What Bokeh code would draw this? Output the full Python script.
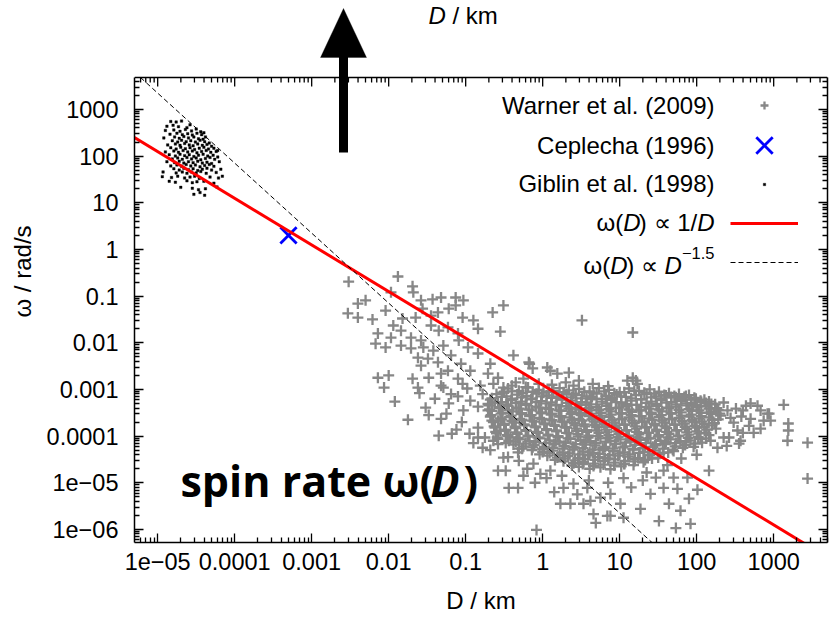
import math
from bokeh.plotting import figure
from bokeh.models import (Range1d, LogAxis, FixedTicker, Label, Legend, LegendItem,
                          BoxAnnotation, PolyAnnotation, Span, ColumnDataSource)
from bokeh.core.properties import value
from bokeh.embed import file_html
from bokeh.resources import INLINE

# ---------------- data (log10 units for the scatter sets) ----------------
warner_log10_D = [
    -2.52, -1.88, -1.69, -1.68, -2.40, -2.30, -2.53, -2.40, -2.21, -2.04,
    -1.97, -1.58, -1.43, -1.32, -1.13, -1.03, -1.13, -1.22, -1.36, -1.45,
    -1.56, -1.65, -1.82, -1.94, -1.84, -1.71, -1.58, -1.45, -1.35, -1.23,
    -1.10, -1.04, -0.90, -0.84, -0.65, -2.14, -2.17, -1.97, -2.04, -1.84,
    -1.71, -1.55, -1.42, -1.29, -1.19, -1.09, -0.97, -0.84, -1.62, -1.49,
    -1.58, -1.36, -1.23, -1.06, -0.94, -2.14, -2.00, -1.69, -1.48, -1.32,
    -1.10, -0.71, -0.64, -1.62, -1.32, -1.04, -0.81, -2.06, -0.51, -0.55,
    0.51, 1.17, -0.38, -0.17, 0.06, 0.34, 1.17, 1.21, -1.92, -1.75,
    -1.35, -1.52, -1.32, -1.22, -0.84, -0.78, -0.58, -0.48, -0.25, -0.44,
    -0.32, -0.03, 0.23, 0.36, 0.53, 0.66, 0.69, 0.84, 1.05, 1.27,
    1.51, 1.73, 1.92, -0.08, 1.64, 1.79, 1.90, 1.75, 1.57, 1.40,
    1.47, 1.70, 1.88, 1.57, 2.16, 2.01, -0.51, -0.12, -0.31, -0.64,
    -0.55, -0.31, 0.10, 0.27, 0.40, 0.58, 0.62, 0.75, 0.88, 1.01,
    -0.18, -0.13, 0.10, 0.19, 0.30, 0.47, 0.65, 1.10, 1.23, -0.25,
    -0.35, -0.58, -0.68, -0.51, 0.88, 2.79, 2.92, 2.96, 3.13, 3.19,
    3.19, 3.18, 3.44, 3.44, 2.60, 2.70, 2.83, 2.53, 2.42, 2.35,
    2.44, 2.57, 2.27, 2.35, 2.87, 2.74, 2.55, 2.39, 2.94, 2.64,
    2.51, 2.83, 2.68, 2.48, 2.31, 2.25, 2.60, 2.70, 2.40, 2.58,
    -1.29, -1.10, -0.94, -0.84, -1.03, -0.71, -0.58, -0.84, -0.49, -0.75,
    -0.42, -0.58, -0.32, -1.19, -1.40, -1.25, -1.05, -0.95, -1.12, -0.90,
    -0.62, -0.78, -0.98, -0.50, -0.40, -0.22, -0.05, 0.12, 0.40, 0.85,
    -1.60, -1.48, -1.18, -0.68, -0.45, -0.20, 0.05, 0.15, 0.45, 1.15,
    1.30, 1.05, 0.85, 0.25, -0.10, 1.62, 1.80, 2.00, 1.35, 0.60,
    -0.45, -0.31, -0.19, -0.05, 0.08, 0.22, 0.34, 0.47, 0.61, 0.73, 0.86, 1.00, 1.12, 1.25, 1.39, 1.51, 1.64, 1.77, 1.90,
    -0.53, -0.40, -0.26, -0.13, 0.01, 0.14, 0.27, 0.40, 0.54, 0.66, 0.80, 0.93, 1.06, 1.19, 1.32, 1.45, 1.58, 1.71, 1.84, 1.97,
    -0.60, -0.47, -0.33, -0.21, -0.08, 0.05, 0.18, 0.31, 0.43, 0.57, 0.70, 0.82, 0.96, 1.08, 1.21, 1.35, 1.47, 1.60, 1.73, 1.86, 1.99, 2.10,
    -0.66, -0.53, -0.40, -0.27, -0.14, -0.01, 0.12, 0.25, 0.38, 0.51, 0.64, 0.77, 0.90, 1.02, 1.15, 1.28, 1.41, 1.54, 1.67, 1.80, 1.93, 2.05, 2.16,
    -0.68, -0.54, -0.41, -0.28, -0.15, -0.02, 0.11, 0.25, 0.37, 0.50, 0.63, 0.77, 0.89, 1.02, 1.15, 1.28, 1.41, 1.54, 1.67, 1.80, 1.93, 2.06, 2.19,
    -0.71, -0.58, -0.47, -0.35, -0.22, -0.08, 0.05, 0.18, 0.31, 0.44, 0.57, 0.70, 0.83, 0.96, 1.09, 1.22, 1.35, 1.48, 1.61, 1.74, 1.87, 2.00, 2.12, 2.24,
    -0.70, -0.57, -0.45, -0.34, -0.21, -0.09, 0.04, 0.17, 0.31, 0.43, 0.56, 0.70, 0.83, 0.95, 1.09, 1.22, 1.34, 1.48, 1.61, 1.73, 1.87, 2.00, 2.13, 2.26,
    -0.69, -0.56, -0.44, -0.31, -0.18, -0.05, 0.08, 0.21, 0.34, 0.47, 0.60, 0.73, 0.86, 0.99, 1.12, 1.25, 1.38, 1.51, 1.64, 1.77, 1.90, 2.03, 2.16, 2.28,
    -0.66, -0.52, -0.39, -0.27, -0.14, -0.01, 0.12, 0.24, 0.38, 0.50, 0.63, 0.76, 0.89, 1.03, 1.16, 1.28, 1.41, 1.55, 1.67, 1.80, 1.94, 2.06, 2.19, 2.30,
    -0.67, -0.54, -0.41, -0.28, -0.15, -0.02, 0.11, 0.24, 0.37, 0.50, 0.63, 0.76, 0.89, 1.02, 1.15, 1.28, 1.41, 1.54, 1.67, 1.80, 1.93, 2.06, 2.19,
    -0.68, -0.55, -0.43, -0.30, -0.17, -0.04, 0.09, 0.21, 0.35, 0.47, 0.60, 0.74, 0.86, 0.99, 1.12, 1.25, 1.38, 1.51, 1.64, 1.77, 1.90, 2.03, 2.16, 2.28,
    -0.66, -0.53, -0.40, -0.27, -0.14, -0.01, 0.12, 0.25, 0.38, 0.51, 0.64, 0.77, 0.90, 1.03, 1.16, 1.29, 1.42, 1.55, 1.68, 1.81, 1.94, 2.07, 2.20,
    -0.64, -0.50, -0.37, -0.24, -0.11, 0.02, 0.15, 0.28, 0.41, 0.54, 0.67, 0.80, 0.93, 1.06, 1.19, 1.32, 1.45, 1.58, 1.71, 1.84, 1.97, 2.10, 2.23,
    -0.63, -0.50, -0.36, -0.23, -0.10, 0.03, 0.16, 0.29, 0.42, 0.55, 0.68, 0.81, 0.94, 1.07, 1.20, 1.33, 1.46, 1.59, 1.72, 1.85, 1.98, 2.10, 2.20,
    -0.62, -0.48, -0.35, -0.22, -0.09, 0.05, 0.18, 0.31, 0.44, 0.57, 0.70, 0.83, 0.96, 1.09, 1.22, 1.35, 1.48, 1.61, 1.74, 1.87, 2.00, 2.13,
    -0.61, -0.48, -0.34, -0.21, -0.08, 0.05, 0.18, 0.31, 0.44, 0.57, 0.70, 0.83, 0.96, 1.09, 1.22, 1.35, 1.48, 1.61, 1.74, 1.87, 2.00, 2.12,
    -0.60, -0.46, -0.33, -0.19, -0.06, 0.07, 0.20, 0.34, 0.46, 0.60, 0.73, 0.86, 0.99, 1.12, 1.25, 1.38, 1.51, 1.64, 1.77, 1.90, 2.03, 2.16,
    -0.59, -0.45, -0.32, -0.19, -0.06, 0.07, 0.20, 0.33, 0.46, 0.59, 0.72, 0.85, 0.98, 1.11, 1.24, 1.37, 1.50, 1.63, 1.76, 1.89, 2.02, 2.12,
    -0.58, -0.44, -0.30, -0.17, -0.04, 0.09, 0.22, 0.36, 0.49, 0.62, 0.75, 0.88, 1.01, 1.14, 1.27, 1.40, 1.53, 1.66, 1.79, 1.92, 2.05, 2.18,
    -0.48, -0.35, -0.22, -0.09, 0.04, 0.17, 0.30, 0.43, 0.56, 0.69, 0.82, 0.95, 1.08, 1.21, 1.34, 1.47, 1.60, 1.73, 1.86, 1.98, 2.07,
    -0.38, -0.25, -0.11, 0.02, 0.15, 0.28, 0.41, 0.55, 0.68, 0.81, 0.94, 1.07, 1.20, 1.33, 1.46, 1.59, 1.72, 1.85, 1.96,
    -0.27, -0.13, 0.00, 0.13, 0.26, 0.39, 0.52, 0.65, 0.78, 0.91, 1.04, 1.17, 1.30, 1.43, 1.56, 1.69, 1.82,
    -0.14, 0.00, 0.13, 0.26, 0.39, 0.52, 0.65, 0.79, 0.92, 1.05, 1.18, 1.31, 1.44, 1.57, 1.70,
    -0.04, 0.09, 0.22, 0.35, 0.48, 0.61, 0.74, 0.87, 1.00, 1.13, 1.26, 1.39, 1.52, 1.63,
    0.06, 0.19, 0.33, 0.46, 0.59, 0.72, 0.85, 0.98, 1.11, 1.24, 1.37, 1.50,
    0.16, 0.29, 0.42, 0.55, 0.68, 0.81, 0.94, 1.07, 1.20, 1.33, 1.42,
    0.27, 0.40, 0.53, 0.66, 0.80, 0.93, 1.06, 1.19, 1.31,
    0.38, 0.52, 0.66, 0.79, 0.93, 1.06, 1.18,
    0.47, 0.61, 0.75, 0.88, 1.02,
]
warner_log10_omega = [
    -0.69, -0.58, -0.79, -0.92, -1.16, -1.09, -1.37, -1.46, -1.50, -1.31,
    -0.92, -1.09, -1.07, -1.03, -1.03, -1.09, -1.20, -1.27, -1.35, -1.42,
    -1.27, -1.46, -1.48, -1.63, -1.74, -1.89, -1.95, -1.63, -1.74, -1.67,
    -1.80, -1.46, -1.52, -1.70, -1.35, -1.80, -2.02, -1.89, -2.10, -2.06,
    -2.12, -2.10, -2.17, -2.06, -2.27, -1.95, -2.10, -2.23, -2.32, -2.34,
    -2.49, -2.42, -2.60, -2.45, -2.60, -2.75, -2.70, -2.77, -2.75, -2.66,
    -2.77, -2.66, -2.88, -2.96, -2.92, -2.88, -2.92, -2.96, -1.20, -1.76,
    -1.52, -1.78, -2.27, -2.45, -2.53, -2.64, -2.75, -2.81, -3.26, -3.65,
    -3.99, -3.39, -3.63, -3.30, -4.03, -4.25, -4.74, -4.74, -4.85, -5.11,
    -5.11, -4.81, -5.45, -5.45, -5.45, -5.67, -5.86, -5.71, -5.75, -5.56,
    -5.82, -5.97, -5.88, -6.01, -5.45, -5.60, -5.34, -5.13, -5.11, -5.24,
    -4.89, -4.89, -4.89, -4.74, -4.74, -5.15, -4.46, -4.59, -4.53, -4.10,
    -3.88, -4.27, -4.74, -5.11, -5.02, -5.11, -5.39, -5.32, -5.24, -5.45,
    -2.42, -2.55, -2.60, -2.66, -2.85, -2.81, -2.88, -2.81, -2.88, -2.77,
    -2.85, -2.75, -2.45, -2.96, -5.71, -3.35, -3.52, -3.67, -3.33, -3.73,
    -3.88, -4.10, -4.14, -4.91, -3.45, -3.63, -3.84, -3.88, -4.03, -3.28,
    -3.61, -4.10, -4.25, -4.03, -3.67, -3.93, -4.16, -4.21, -3.52, -3.35,
    -3.41, -3.45, -3.78, -3.71, -3.56, -3.84, -3.93, -3.30, -3.45, -3.58,
    -2.96, -3.15, -3.24, -3.37, -3.45, -3.45, -3.67, -3.82, -3.88, -4.03,
    -4.03, -4.17, -4.35, -3.10, -3.20, -3.52, -3.70, -3.95, -3.86, -4.15,
    -3.28, -3.10, -2.98, -3.05, -2.92, -2.95, -2.88, -2.90, -2.92, -2.93,
    -3.08, -3.55, -3.95, -4.30, -4.45, -4.70, -4.90, -5.20, -5.25, -5.10,
    -4.95, -4.90, -5.00, -4.85, -5.00, -4.62, -4.48, -4.40, -4.78, -4.95,
    -2.98, -3.03, -2.96, -3.01, -3.05, -2.97, -3.02, -2.99, -3.04, -2.97, -3.01, -3.06, -2.98, -3.03, -3.00, -3.05, -3.08, -3.10, -3.12,
    -3.07, -3.04, -3.08, -3.05, -3.07, -3.03, -3.06, -3.09, -3.05, -3.07, -3.04, -3.08, -3.06, -3.03, -3.07, -3.09, -3.12, -3.14, -3.16, -3.18,
    -3.10, -3.15, -3.11, -3.14, -3.09, -3.13, -3.16, -3.10, -3.12, -3.15, -3.09, -3.14, -3.11, -3.16, -3.12, -3.10, -3.15, -3.13, -3.17, -3.14, -3.20, -3.22,
    -3.19, -3.16, -3.20, -3.17, -3.19, -3.15, -3.18, -3.21, -3.17, -3.19, -3.16, -3.20, -3.18, -3.15, -3.19, -3.21, -3.17, -3.19, -3.16, -3.20, -3.22, -3.24, -3.26,
    -3.22, -3.27, -3.23, -3.26, -3.21, -3.25, -3.28, -3.22, -3.24, -3.27, -3.21, -3.26, -3.23, -3.28, -3.24, -3.21, -3.26, -3.23, -3.27, -3.25, -3.29, -3.27, -3.31,
    -3.31, -3.28, -3.32, -3.29, -3.31, -3.27, -3.30, -3.33, -3.29, -3.31, -3.28, -3.32, -3.30, -3.27, -3.31, -3.33, -3.29, -3.31, -3.28, -3.32, -3.30, -3.33, -3.29, -3.32,
    -3.34, -3.38, -3.35, -3.39, -3.33, -3.37, -3.40, -3.34, -3.36, -3.39, -3.33, -3.38, -3.35, -3.40, -3.36, -3.33, -3.38, -3.35, -3.39, -3.37, -3.34, -3.38, -3.36, -3.40,
    -3.43, -3.40, -3.44, -3.41, -3.43, -3.39, -3.42, -3.45, -3.41, -3.43, -3.40, -3.44, -3.42, -3.39, -3.43, -3.45, -3.41, -3.43, -3.40, -3.44, -3.42, -3.45, -3.41, -3.44,
    -3.46, -3.50, -3.47, -3.51, -3.45, -3.49, -3.52, -3.46, -3.48, -3.51, -3.45, -3.50, -3.47, -3.52, -3.48, -3.45, -3.50, -3.47, -3.51, -3.49, -3.46, -3.50, -3.48, -3.52,
    -3.55, -3.52, -3.56, -3.53, -3.55, -3.51, -3.54, -3.57, -3.53, -3.55, -3.52, -3.56, -3.54, -3.51, -3.55, -3.57, -3.53, -3.55, -3.52, -3.56, -3.54, -3.57, -3.53,
    -3.58, -3.62, -3.59, -3.63, -3.57, -3.61, -3.64, -3.58, -3.60, -3.63, -3.57, -3.62, -3.59, -3.64, -3.60, -3.57, -3.62, -3.59, -3.63, -3.61, -3.58, -3.62, -3.60, -3.64,
    -3.67, -3.64, -3.68, -3.65, -3.67, -3.63, -3.66, -3.69, -3.65, -3.67, -3.64, -3.68, -3.66, -3.63, -3.67, -3.69, -3.65, -3.67, -3.64, -3.68, -3.66, -3.69, -3.65,
    -3.70, -3.74, -3.71, -3.75, -3.69, -3.73, -3.76, -3.70, -3.72, -3.75, -3.69, -3.74, -3.71, -3.76, -3.72, -3.69, -3.74, -3.71, -3.75, -3.73, -3.70, -3.74, -3.72,
    -3.79, -3.76, -3.80, -3.77, -3.79, -3.75, -3.78, -3.81, -3.77, -3.79, -3.76, -3.80, -3.78, -3.75, -3.79, -3.81, -3.77, -3.79, -3.76, -3.80, -3.78, -3.81, -3.77,
    -3.82, -3.86, -3.83, -3.87, -3.81, -3.85, -3.88, -3.82, -3.84, -3.87, -3.81, -3.86, -3.83, -3.88, -3.84, -3.81, -3.86, -3.83, -3.87, -3.85, -3.82, -3.86,
    -3.91, -3.88, -3.92, -3.89, -3.91, -3.87, -3.90, -3.93, -3.89, -3.91, -3.88, -3.92, -3.90, -3.87, -3.91, -3.93, -3.89, -3.91, -3.88, -3.92, -3.90, -3.93,
    -3.94, -3.98, -3.95, -3.99, -3.93, -3.97, -4.00, -3.94, -3.96, -3.99, -3.93, -3.98, -3.95, -4.00, -3.96, -3.93, -3.98, -3.95, -3.99, -3.97, -3.94, -3.98,
    -4.03, -4.00, -4.04, -4.01, -4.03, -3.99, -4.02, -4.05, -4.01, -4.03, -4.00, -4.04, -4.02, -3.99, -4.03, -4.05, -4.01, -4.03, -4.00, -4.04, -4.02, -4.05,
    -4.06, -4.10, -4.07, -4.11, -4.05, -4.09, -4.12, -4.06, -4.08, -4.11, -4.05, -4.10, -4.07, -4.12, -4.08, -4.05, -4.10, -4.07, -4.11, -4.09, -4.06, -4.10,
    -4.15, -4.12, -4.16, -4.13, -4.15, -4.11, -4.14, -4.17, -4.13, -4.15, -4.12, -4.16, -4.14, -4.11, -4.15, -4.17, -4.13, -4.15, -4.12, -4.16, -4.14,
    -4.18, -4.22, -4.19, -4.23, -4.17, -4.21, -4.24, -4.18, -4.20, -4.23, -4.17, -4.22, -4.19, -4.24, -4.20, -4.17, -4.22, -4.19, -4.23,
    -4.27, -4.24, -4.28, -4.25, -4.27, -4.23, -4.26, -4.29, -4.25, -4.27, -4.24, -4.28, -4.26, -4.23, -4.27, -4.29, -4.25,
    -4.30, -4.34, -4.31, -4.35, -4.29, -4.33, -4.36, -4.30, -4.32, -4.35, -4.29, -4.34, -4.31, -4.36, -4.32,
    -4.39, -4.36, -4.40, -4.37, -4.39, -4.35, -4.38, -4.41, -4.37, -4.39, -4.36, -4.40, -4.38, -4.35,
    -4.42, -4.46, -4.43, -4.47, -4.41, -4.45, -4.48, -4.42, -4.44, -4.47, -4.41, -4.46,
    -4.51, -4.48, -4.52, -4.49, -4.51, -4.47, -4.50, -4.53, -4.49, -4.51, -4.48,
    -4.54, -4.58, -4.55, -4.59, -4.53, -4.57, -4.60, -4.54, -4.56,
    -4.63, -4.60, -4.64, -4.61, -4.63, -4.59, -4.62,
    -4.66, -4.70, -4.67, -4.71, -4.65,
]

giblin_log10_D = [
    -4.83, -4.76, -4.69,
    -4.88, -4.80, -4.73, -4.58, -4.62,
    -4.90, -4.79, -4.71, -4.64, -4.56, -4.50, -4.44, -4.40,
    -4.84, -4.75, -4.68, -4.61, -4.55, -4.49, -4.43, -4.38,
    -4.92, -4.78, -4.72, -4.66, -4.60, -4.53, -4.47, -4.41,
    -4.81, -4.74, -4.69, -4.63, -4.57, -4.51, -4.45, -4.39, -4.33,
    -4.87, -4.77, -4.71, -4.65, -4.59, -4.54, -4.48, -4.42, -4.36, -4.30,
    -4.83, -4.76, -4.70, -4.64, -4.58, -4.52, -4.46, -4.40, -4.34, -4.27, -4.22,
    -4.90, -4.79, -4.73, -4.67, -4.61, -4.55, -4.49, -4.43, -4.37, -4.31, -4.24,
    -4.85, -4.77, -4.71, -4.65, -4.59, -4.53, -4.47, -4.41, -4.35, -4.28, -4.22,
    -4.81, -4.74, -4.68, -4.62, -4.56, -4.50, -4.44, -4.38, -4.32, -4.26,
    -4.88, -4.78, -4.72, -4.66, -4.60, -4.54, -4.48, -4.42, -4.36, -4.30, -4.20,
    -4.83, -4.75, -4.69, -4.63, -4.57, -4.51, -4.45, -4.39, -4.33, -4.27,
    -4.79, -4.72, -4.66, -4.60, -4.54, -4.48, -4.42, -4.36, -4.30, -4.18,
    -4.93, -4.76, -4.68, -4.62, -4.56, -4.50, -4.44, -4.37, -4.24,
    -4.94, -4.82, -4.74, -4.65, -4.58, -4.52, -4.46, -4.32, -4.21, -4.16,
    -4.85, -4.77, -4.62, -4.55, -4.49, -4.40, -4.27,
    -4.70, -4.55, -4.47, -4.38, -4.23,
    -4.53, -4.39, -4.45,
]
giblin_log10_omega = [
    2.74, 2.73, 2.75,
    2.64, 2.66, 2.63, 2.67, 2.61,
    2.55, 2.56, 2.53, 2.57, 2.54, 2.58, 2.52, 2.50,
    2.47, 2.49, 2.46, 2.48, 2.45, 2.49, 2.46, 2.41,
    2.39, 2.41, 2.38, 2.42, 2.39, 2.41, 2.37, 2.36,
    2.33, 2.30, 2.34, 2.31, 2.33, 2.30, 2.34, 2.31, 2.28,
    2.24, 2.26, 2.23, 2.27, 2.24, 2.22, 2.26, 2.23, 2.25, 2.21,
    2.18, 2.15, 2.19, 2.16, 2.18, 2.14, 2.17, 2.19, 2.15, 2.17, 2.12,
    2.09, 2.11, 2.08, 2.12, 2.09, 2.11, 2.07, 2.10, 2.12, 2.08, 2.10,
    2.03, 2.00, 2.04, 2.01, 2.03, 1.99, 2.02, 2.04, 2.00, 2.02, 1.98,
    1.94, 1.96, 1.93, 1.97, 1.94, 1.96, 1.92, 1.95, 1.97, 1.93,
    1.88, 1.86, 1.89, 1.85, 1.88, 1.86, 1.89, 1.85, 1.87, 1.84, 1.88,
    1.79, 1.81, 1.78, 1.82, 1.79, 1.81, 1.77, 1.80, 1.82, 1.78,
    1.73, 1.70, 1.74, 1.71, 1.73, 1.69, 1.72, 1.74, 1.70, 1.72,
    1.66, 1.64, 1.66, 1.63, 1.66, 1.64, 1.67, 1.63, 1.65,
    1.56, 1.54, 1.57, 1.53, 1.55, 1.57, 1.52, 1.55, 1.53, 1.57,
    1.46, 1.44, 1.47, 1.43, 1.45, 1.46, 1.42,
    1.33, 1.31, 1.28, 1.30, 1.34,
    1.18, 1.16, 1.22,
]

ceplecha_D = [5.0e-4]
ceplecha_omega = [2.0]

inv_line_D = [5.0e-6, 5.0e3]           # omega ~ 1/D
inv_line_omega = [250.0, 2.5e-7]
pow15_line_D = [5.97e-6, 50.0]         # omega ~ D^-1.5
pow15_line_omega = [4.85e3, 2.0e-7]

x_tick_values = [1e-5, 1e-4, 1e-3, 1e-2, 1e-1, 1.0, 10.0, 100.0, 1000.0]
x_tick_labels = ["1e\u221205", "0.0001", "0.001", "0.01", "0.1", "1", "10", "100", "1000"]
y_tick_values = [1e-6, 1e-5, 1e-4, 1e-3, 1e-2, 1e-1, 1.0, 10.0, 100.0, 1000.0]
y_tick_labels = ["1e\u221206", "1e\u221205", "0.0001", "0.001", "0.01", "0.1", "1", "10", "100", "1000"]

legend_names = ["Warner et al. (2009)", "Ceplecha (1996)", "Giblin et al. (1998)"]

# ---------------- axis extents ----------------
X_MIN, X_MAX = 5.0e-6, 5.0e3
Y_MIN, Y_MAX = 5.25e-7, 4.85e3      # plotted box
Y_CANVAS_TOP = 2.158e5              # value at the very top of the window (room for the arrow)

# ---------------- layout constants ----------------
FL, FR, FB = 134, 827, 542          # frame edges in window pixels (frame runs to the window top)
FONT = "Liberation Sans"
PX_PER_DECADE_Y = 46.667

p = figure(width=830, height=619, x_axis_type="log", y_axis_type="log",
           x_range=Range1d(X_MIN, X_MAX), y_range=Range1d(Y_MIN, Y_CANVAS_TOP),
           output_backend="svg", toolbar_location=None, title=None,
           min_border_left=FL, min_border_right=830 - FR, min_border_top=0,
           min_border_bottom=619 - FB)
p.background_fill_color = "white"
p.border_fill_color = "white"
p.outline_line_color = None
p.xgrid.visible = False
p.ygrid.visible = False

bottom_axis = p.below[0]
left_axis = p.left[0]
right_axis = LogAxis()
p.add_layout(right_axis, "right")


def minor_list(lo, hi, vmin, vmax):
    return [m * 10.0 ** e for e in range(lo, hi) for m in range(2, 10)
            if vmin <= m * 10.0 ** e <= vmax]


x_minor = minor_list(-6, 4, X_MIN, X_MAX)
y_minor = minor_list(-7, 4, Y_MIN, Y_MAX)


def style_axis(ax, ticks, minor, labels, show):
    ax.ticker = FixedTicker(ticks=ticks, minor_ticks=minor)
    if show:
        ax.major_label_overrides = {float(t): s for t, s in zip(ticks, labels)}
        ax.major_label_text_font_size = "23.5px"
    else:
        ax.major_label_overrides = {float(t): "" for t in ticks}
        ax.major_label_text_font_size = "1px"
        ax.major_label_standoff = 0
    ax.major_label_text_font = FONT
    ax.major_label_text_color = "black"
    ax.major_tick_in = 9
    ax.major_tick_out = 0
    ax.minor_tick_in = 5
    ax.minor_tick_out = 0
    ax.major_tick_line_color = "black"
    ax.minor_tick_line_color = "black"
    ax.major_tick_line_width = 1.3
    ax.minor_tick_line_width = 1.3
    ax.axis_line_color = "black"
    ax.axis_line_width = 1.5


style_axis(bottom_axis, x_tick_values, x_minor, x_tick_labels, True)
style_axis(left_axis, y_tick_values, y_minor, y_tick_labels, True)
style_axis(right_axis, y_tick_values, y_minor, y_tick_labels, False)
left_axis.bounds = (Y_MIN, Y_MAX)
right_axis.bounds = (Y_MIN, Y_MAX)
bottom_axis.major_label_standoff = 10
left_axis.major_label_standoff = 16

for ax, title, standoff in ((left_axis, "\u03c9 / rad/s", 8), (bottom_axis, "D / km", 14)):
    ax.axis_label = title
    ax.axis_label_text_font = FONT
    ax.axis_label_text_font_size = "24px"
    ax.axis_label_text_font_style = "normal"
    ax.axis_label_text_color = "black"
    ax.axis_label_standoff = standoff

# top edge of the box with inward ticks (the box is shorter than the canvas)
p.add_layout(Span(location=Y_MAX, dimension="width", line_color="black", line_width=1.5))
major_len = 10 ** (-9 / PX_PER_DECADE_Y)
minor_len = 10 ** (-5 / PX_PER_DECADE_Y)
p.segment(x0=x_tick_values, y0=[Y_MAX] * len(x_tick_values),
          x1=x_tick_values, y1=[Y_MAX * major_len] * len(x_tick_values),
          line_color="black", line_width=1.3)
p.segment(x0=x_minor, y0=[Y_MAX] * len(x_minor),
          x1=x_minor, y1=[Y_MAX * minor_len] * len(x_minor),
          line_color="black", line_width=1.3)

# ---------------- data renderers ----------------
warner_src = ColumnDataSource(dict(D=[10 ** v for v in warner_log10_D],
                                   w=[10 ** v for v in warner_log10_omega]))
giblin_src = ColumnDataSource(dict(D=[10 ** v for v in giblin_log10_D],
                                   w=[10 ** v for v in giblin_log10_omega]))

r_warner = p.scatter("D", "w", source=warner_src, marker="cross", size=11,
                     line_color="#878787", line_width=2.3)
r_cep = p.scatter(ceplecha_D, ceplecha_omega, marker="x", size=23,
                  line_color="#0000ff", line_width=2.8)
r_giblin = p.scatter("D", "w", source=giblin_src, marker="square", size=2.5,
                     fill_color="black", line_color="black", line_width=0.4)
r_inv = p.line(inv_line_D, inv_line_omega, line_color="#ff0000", line_width=3)
r_pow = p.line(pow15_line_D, pow15_line_omega, line_color="black", line_width=1,
               line_dash="5 3")


# ---------------- legend (samples on the right, text right-aligned) ----------------
def legend_sample(renderer, cx, cy, gw, gh):
    leg = Legend(items=[LegendItem(label=value(" "), renderers=[renderer])],
                 location=(cx - FL - gw / 2, FB - cy - gh / 2),
                 glyph_width=gw, glyph_height=gh, label_height=gh, label_width=0,
                 label_standoff=0, padding=0, margin=0, spacing=0,
                 label_text_font_size="1px",
                 border_line_color=None, background_fill_alpha=0)
    p.add_layout(leg)


legend_sample(r_warner, 764, 105, 20, 20)
legend_sample(r_cep, 764, 145, 58, 58)
legend_sample(r_giblin, 764, 184, 6, 6)
legend_sample(r_inv, 764, 223, 68, 10)
legend_sample(r_pow, 764, 262, 68, 10)


def text(s, px, py, size="24px", font=FONT, style="normal", align="left",
         baseline="middle", angle=0.0):
    p.add_layout(Label(x=px - FL, y=FB - py, x_units="screen", y_units="screen",
                       text=s, text_font=font, text_font_size=size,
                       text_font_style=style, text_align=align,
                       text_baseline=baseline, angle=angle, text_color="black"))


NB = "\u00a0"
text(legend_names[0], 714, 105, align="right")
text(legend_names[1], 714, 145, align="right")
text(legend_names[2], 714, 183, align="right")
# omega(D) ~ 1/D
text("D", 714, 222, style="italic", align="right")
text(")" + NB + "\u221d" + NB + "1/", 696.7, 222, align="right")
text("D", 640, 222, style="italic", align="right")
text("\u03c9(", 622.7, 222, align="right")
# omega(D) ~ D^-1.5
text("\u22121.5", 714, 252, size="16.5px", align="right")
text("D", 681.4, 265, style="italic", align="right")
text(")" + NB + "\u221d" + NB, 664, 265, align="right")
text("D", 627, 265, style="italic", align="right")
text("\u03c9(", 609.7, 265, align="right")

# x axis title repeated at the very top of the window
text("D", 428, 15, style="italic", baseline="alphabetic")
text(NB + "/" + NB + "km", 445.3, 15, baseline="alphabetic")

# big annotation
text("spin rate \u03c9(", 180, 480, size="43px", font="Open Sans", style="bold",
     baseline="alphabetic")
text("D", 430, 480, size="43px", font="Open Sans", style="bold italic",
     baseline="alphabetic")
text(")", 463, 480, size="43px", font="Open Sans", style="bold",
     baseline="alphabetic")

# big upward arrow crossing the top edge of the box (frame-relative screen pixels)
ARROW_X, SHAFT_HALF, HEAD_HALF = 343, 4.5, 23
SHAFT_BOTTOM, HEAD_BASE, HEAD_TIP = 152, 57, 8
p.add_layout(BoxAnnotation(left=ARROW_X - SHAFT_HALF - FL, right=ARROW_X + SHAFT_HALF - FL,
                           bottom=FB - SHAFT_BOTTOM, top=FB - HEAD_BASE + 1,
                           left_units="screen", right_units="screen",
                           bottom_units="screen", top_units="screen",
                           fill_color="black", fill_alpha=1.0, line_color=None))
p.add_layout(PolyAnnotation(xs=[ARROW_X - HEAD_HALF - FL, ARROW_X + HEAD_HALF - FL, ARROW_X - FL],
                            ys=[FB - HEAD_BASE, FB - HEAD_BASE, FB - HEAD_TIP],
                            xs_units="screen", ys_units="screen",
                            fill_color="black", fill_alpha=1.0,
                            line_color="black", line_width=1))

open("out.html", "w").write(file_html(p, INLINE))
